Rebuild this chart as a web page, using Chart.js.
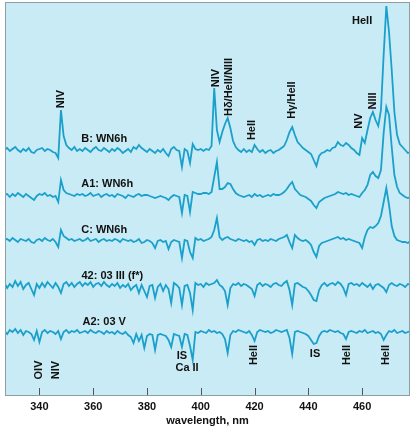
<!DOCTYPE html>
<html>
<head>
<meta charset="utf-8">
<script src="https://cdn.jsdelivr.net/npm/chart.js@4/dist/chart.umd.min.js"></script>
<style>
	html, body { margin: 0; padding: 0; background: #fff; }
	#wrap { width: 412px; height: 429px; position: relative; }
</style>
</head>
<body>
<div id="wrap"><canvas id="spectraChart"></canvas></div>
<script>
// wavelength grid, nm
const wavelength = [
	327, 328, 329, 330, 331, 332, 333, 334, 335, 336,
	337, 338, 339, 340, 341, 342, 343, 344, 345, 346,
	347, 348, 349, 350, 351, 352, 353, 354, 355, 356,
	357, 358, 359, 360, 361, 362, 363, 364, 365, 366,
	367, 368, 369, 370, 371, 372, 373, 374, 375, 376,
	377, 378, 379, 380, 381, 382, 383, 384, 385, 386,
	387, 388, 389, 390, 391, 392, 393, 394, 395, 396,
	397, 398, 399, 400, 401, 402, 403, 404, 405, 406,
	407, 408, 409, 410, 411, 412, 413, 414, 415, 416,
	417, 418, 419, 420, 421, 422, 423, 424, 425, 426,
	427, 428, 429, 430, 431, 432, 433, 434, 435, 436,
	437, 438, 439, 440, 441, 442, 443, 444, 445, 446,
	447, 448, 449, 450, 451, 452, 453, 454, 455, 456,
	457, 458, 459, 460, 461, 462, 463, 464, 465, 466,
	467, 468, 469, 470, 471, 472, 473, 474, 475, 476,
	477, 478
];

// flux relative to each spectrum's own continuum (arbitrary units)
const fluxB = [
	0, 2, -1, 1, 3, 0, -2, 1, -1, 2,
	-2, -3, 0, 1, 2, -1, 1, 0, -2, -3,
	-8, 40, 14, 5, 2, 0, 3, -1, 1, -1,
	2, 0, -2, 1, 3, 0, -1, 2, 0, -2,
	1, -1, 2, 0, -3, -1, 1, -2, 3, 1,
	5, 2, 0, -2, 1, -1, -3, 0, -2, 1,
	-3, -6, 1, 3, 0, -1, -17, 1, -1, -13,
	6, 1, 0, 1, -1, 1, 0, 4, 62, 20,
	8, 18, 26, 32, 22, 9, 3, 0, -2, 1,
	-2, 0, -2, 5, 1, -2, 0, -3, -1, 0,
	-3, -1, 0, 2, 4, 10, 18, 23, 15, 8,
	5, 2, 0, -2, -4, -10, -16, -6, -3, -2,
	0, -1, 2, 3, 8, 5, 4, 7, 5, 2,
	0, -3, -5, 12, 7, 20, 32, 38, 30, 24,
	40, 95, 144, 118, 80, 38, 15, 6, 3, 0,
	-3, -2
];
const fluxA1 = [
	0, 1, -2, 1, -1, 2, 0, -2, 1, -1,
	-3, -5, -1, 1, 0, 2, -1, 0, -2, -1,
	-7, 15, 5, 2, 1, 0, -1, 1, 0, 1,
	-1, 0, 2, -1, 0, 1, -2, 0, 1, -1,
	0, -2, 1, 0, -1, -3, 0, -1, -2, 0,
	1, -1, 0, 0, -1, -2, -3, -2, -1, -2,
	-3, -5, -2, 0, -1, -2, -18, 0, -1, -17,
	3, 2, 1, 1, 2, 2, 1, 3, 18, 33,
	6, 6, 8, 12, 11, 6, 2, 0, -1, -2,
	-1, 0, -2, 1, -1, 0, -2, -1, 0, -1,
	1, 0, 0, 1, 3, 6, 10, 13, 6, 3,
	0, -1, -2, -4, -6, -10, -13, -7, -5, -3,
	-2, -1, 0, 1, 3, 2, 1, 2, 0, 1,
	0, -1, -2, 2, 5, 10, 20, 23, 19, 17,
	25, 62, 88, 80, 48, 20, 8, 2, 0, -2,
	-3, -2
];
const fluxC = [
	0, 1, -1, 2, 0, -2, 1, 0, -1, 1,
	-2, -3, 0, 1, -1, 2, 0, -1, 1, -2,
	-7, 10, 4, 2, 0, 1, -1, 0, 1, -1,
	0, 2, -1, 0, 1, -2, 0, 1, -1, 0,
	-1, 1, 0, -2, 1, 0, -1, 0, -2, -1,
	1, -3, -2, 0, -1, -3, -8, -1, 0, -2,
	-1, -9, -2, 0, -1, -2, -18, 0, -1, -12,
	-18, 2, 0, 1, -1, 0, 1, 3, 10, 22,
	3, 0, 2, 3, 1, 0, -1, 1, 0, -1,
	0, -2, -1, -5, 0, 1, -1, 0, -1, 1,
	0, -1, 1, 2, 3, 5, -2, -8, 5, 2,
	0, -1, 0, -2, -5, -12, -17, -6, -3, -2,
	-1, 0, 1, 2, 3, 1, 2, 0, 1, 0,
	-1, -2, -3, -8, 3, 10, 13, 12, 14, 17,
	24, 38, 52, 35, 14, 4, 0, -1, -2, -2,
	-3, -1
];
const flux42 = [
	2, -3, 1, -2, 4, -1, 3, -4, 0, 2,
	-4, -10, 1, -3, 2, -2, 3, 0, -3, 2,
	-2, -8, 1, 3, -1, 2, -2, 1, 3, -1,
	2, 0, 3, -2, 1, 2, -1, 3, 0, -2,
	1, -1, 2, -3, 0, -2, 1, -5, -2, 0,
	-8, 0, -6, -12, -1, 0, -13, -2, 1, -6,
	0, -4, -18, 2, 0, -3, -20, -1, 0, -8,
	-25, 2, 0, 1, -2, 2, 0, 1, 2, 5,
	0, -2, -6, -20, -3, 1, 0, 2, -1, 1,
	0, -2, -4, -11, 0, 2, -1, 1, 0, -2,
	1, 2, 0, -1, 2, 4, -5, -20, 1, 2,
	0, -2, -3, -6, -10, -15, -16, -5, 0, 2,
	-1, 1, 2, 0, 3, 1, -3, -10, 1, 2,
	0, 1, -1, 2, 0, -2, 1, -4, 0, 1,
	-1, -3, -7, 0, 2, 0, -1, 1, 0, -2,
	1, 0
];
const fluxA2 = [
	1, -2, 2, 0, 3, -1, 2, -3, 1, 0,
	-2, -8, 1, -10, 0, 2, -1, 1, 0, -2,
	1, -7, 0, 2, -1, 1, 0, 2, -1, 0,
	1, -1, 2, 0, -1, 1, 0, -2, 1, -1,
	0, -2, 1, -1, -2, 0, -3, -5, -11, -2,
	-9, -3, -16, -4, -2, -3, -18, -3, -2, -3,
	-4, -8, -15, -2, -3, -4, -15, -2, -3, -14,
	-28, 0, -1, 1, 0, -1, 2, 0, 1, -1,
	0, -2, -7, -21, -3, 1, 0, 2, 1, 0,
	-1, 1, -3, -9, 0, 2, 1, 0, 1, -1,
	0, 2, 1, 0, 1, 2, -6, -22, 0, 1,
	0, -1, -2, -4, -8, -12, -11, -4, 0, 1,
	0, 2, 1, 0, 1, -1, -2, -7, 0, 1,
	0, -1, 1, 0, 2, -1, 0, 1, -1, 0,
	-2, -8, -3, 1, 0, 2, -1, 0, 1, -1,
	0, 1
];

const spectrumNames = ['B: WN6h', 'A1: WN6h', 'C: WN6h', '42: 03 III (f*)', 'A2: 03 V'];
const spectrumFlux = [fluxB, fluxA1, fluxC, flux42, fluxA2];
// vertical shift of each spectrum in the stack
const spectrumOffset = [245, 200, 155, 110, 63];

const xTicks = [340, 360, 380, 400, 420, 440, 460];

// line identifications: text, wavelength, height, rotated?
const lineLabels = [
	{ text: 'NIV', x: 348.1, y: 296, rot: true },
	{ text: 'NIV', x: 405.7, y: 317, rot: true },
	{ text: 'H\u03b4/HeII/NIII', x: 410.5, y: 308, rot: true },
	{ text: 'HeII', x: 419, y: 265, rot: true },
	{ text: 'H\u03b3/HeII', x: 433.9, y: 295, rot: true },
	{ text: 'NV', x: 458.9, y: 274, rot: true },
	{ text: 'NIII', x: 464.1, y: 294, rot: true },
	{ text: 'HeII', x: 460, y: 374, rot: false },
	{ text: 'OIV', x: 340, y: 25, rot: true },
	{ text: 'NIV', x: 346.2, y: 25, rot: true },
	{ text: 'IS', x: 393, y: 39, rot: false },
	{ text: 'Ca II', x: 394.9, y: 27, rot: false },
	{ text: 'HeII', x: 419.8, y: 40, rot: true },
	{ text: 'IS', x: 442.5, y: 41, rot: false },
	{ text: 'HeII', x: 454.3, y: 40, rot: true },
	{ text: 'HeII', x: 468.8, y: 40, rot: true }
];
// spectrum names placed above each trace
const nameLabels = [
	{ x: 364.1, y: 256 },
	{ x: 365.2, y: 211 },
	{ x: 364.1, y: 165 },
	{ x: 367.1, y: 119 },
	{ x: 364.1, y: 73 }
];

const LINE_COLOR = '#1aa0cb';
const PANEL_COLOR = '#c8ebf5';
const BORDER_COLOR = '#8f9ea4';
const FONT = 'bold 11px "Liberation Sans", Arial, sans-serif';

const datasets = spectrumFlux.map((flux, k) => ({
	label: spectrumNames[k],
	data: wavelength.map((w, i) => ({ x: w, y: spectrumOffset[k] + flux[i] })),
	borderColor: LINE_COLOR,
	borderWidth: 1.8,
	pointRadius: 0,
	tension: 0,
	fill: false,
}));

const panelPlugin = {
	id: 'panel',
	beforeDatasetsDraw(chart) {
		const { ctx, chartArea: a } = chart;
		ctx.save();
		ctx.fillStyle = PANEL_COLOR;
		ctx.fillRect(a.left, a.top, a.right - a.left, a.bottom - a.top);
		ctx.restore();
	},
	afterDatasetsDraw(chart) {
		const { ctx, chartArea: a, scales } = chart;
		const xs = scales.x, ys = scales.y;
		ctx.save();
		ctx.strokeStyle = BORDER_COLOR;
		ctx.lineWidth = 1;
		ctx.strokeRect(a.left + 0.5, a.top + 0.5, a.right - a.left - 1, a.bottom - a.top);
		// inner tick marks
		ctx.strokeStyle = '#555';
		xTicks.forEach(t => {
			const px = Math.round(xs.getPixelForValue(t)) + 0.5;
			ctx.beginPath();
			ctx.moveTo(px, a.bottom);
			ctx.lineTo(px, a.bottom - 7);
			ctx.stroke();
		});

		ctx.fillStyle = '#111';
		ctx.font = FONT;
		ctx.textAlign = 'center';
		ctx.textBaseline = 'middle';
		lineLabels.forEach(l => {
			const px = xs.getPixelForValue(l.x);
			const py = ys.getPixelForValue(l.y);
			if (l.rot) {
				ctx.save();
				ctx.translate(px, py);
				ctx.rotate(-Math.PI / 2);
				ctx.fillText(l.text, 0, 0);
				ctx.restore();
			} else {
				ctx.fillText(l.text, px, py);
			}
		});
		nameLabels.forEach((l, k) => {
			ctx.fillText(spectrumNames[k], xs.getPixelForValue(l.x), ys.getPixelForValue(l.y));
		});
		ctx.restore();
	}
};

new Chart(document.getElementById('spectraChart'), {
	type: 'line',
	data: { datasets },
	options: {
		responsive: true,
		maintainAspectRatio: false,
		animation: false,
		layout: { padding: { top: 2, left: 5, right: 2, bottom: 0 } },
		plugins: {
			legend: { display: false },
			tooltip: { enabled: false }
		},
		scales: {
			x: {
				type: 'linear',
				min: 327.2,
				max: 477.8,
				afterBuildTicks: (scale) => { scale.ticks = xTicks.map(v => ({ value: v })); },
				afterFit: (scale) => { scale.height = 34; },
				grid: { display: false, drawTicks: false },
				border: { display: false },
				ticks: {
					color: '#111',
					padding: 5,
					maxRotation: 0,
					font: { family: '"Liberation Sans", Arial, sans-serif', size: 11, weight: 'bold' }
				},
				title: {
					display: true,
					text: 'wavelength, nm',
					color: '#111',
					padding: { top: 0, bottom: 1 },
					font: { family: '"Liberation Sans", Arial, sans-serif', size: 11, weight: 'bold' }
				}
			},
			y: {
				display: false,
				min: 0,
				max: 393
			}
		}
	},
	plugins: [panelPlugin]
});
</script>
</body>
</html>
